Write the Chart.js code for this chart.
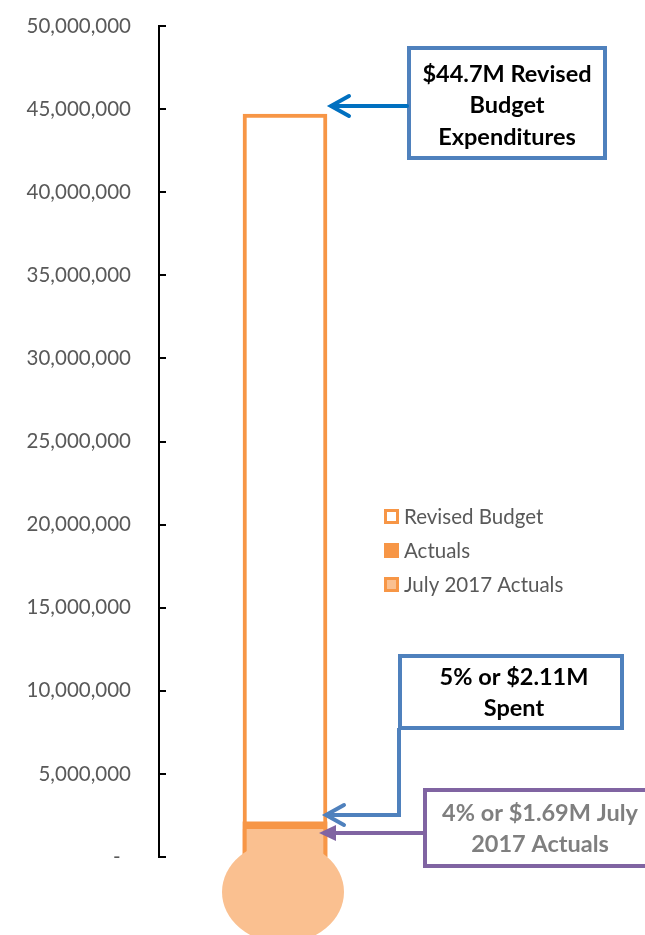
<!DOCTYPE html>
<html>
<head>
<meta charset="utf-8">
<script src="https://cdn.jsdelivr.net/npm/chart.js@4/dist/chart.umd.min.js"></script>
<style>
  body { margin: 0; background: #fff; }
</style>
</head>
<body>
<canvas id="thermoChart" width="645" height="935"></canvas>
<script>
const categories = ['Budget'];
const revisedBudget = [44700000];
const actuals = [2110000];
const julyActuals = [1690000];
const seriesNames = ['Revised Budget', 'Actuals', 'July 2017 Actuals'];
const yMin = 0;
const yMax = 50000000;
const yStep = 5000000;

const ORANGE = '#F79646';
const LIGHT = '#FAC090';
const FONT = 'Lato, "Open Sans", sans-serif';

// inward tick marks on the value axis
const innerTicks = {
  id: 'innerTicks',
  afterDraw(chart) {
    const y = chart.scales.y;
    const ctx = chart.ctx;
    const x0 = chart.chartArea.left;
    ctx.save();
    ctx.strokeStyle = '#000';
    ctx.lineWidth = 2;
    y.ticks.forEach(t => {
      const py = Math.round(y.getPixelForValue(t.value));
      ctx.beginPath();
      ctx.moveTo(x0, py);
      ctx.lineTo(x0 + 7, py);
      ctx.stroke();
    });
    ctx.restore();
  }
};

// thermometer bulb under the column
const bulb = {
  id: 'bulb',
  afterDatasetsDraw(chart) {
    const bar = chart.getDatasetMeta(0).data[0];
    const y0 = chart.scales.y.getPixelForValue(0);
    const ctx = chart.ctx;
    ctx.save();
    ctx.fillStyle = LIGHT;
    ctx.beginPath();
    ctx.ellipse(bar.x - 2, y0 + 35, 61, 51, 0, 0, Math.PI * 2);
    ctx.fill();
    ctx.restore();
  }
};

function arrowOpen(ctx, x1, y, x2, color) {
  ctx.strokeStyle = color;
  ctx.lineWidth = 4;
  ctx.lineCap = 'round';
  ctx.beginPath();
  ctx.moveTo(x1, y);
  ctx.lineTo(x2 + 2, y);
  ctx.stroke();
  ctx.beginPath();
  ctx.moveTo(x2 + 19, y - 10);
  ctx.lineTo(x2 + 1, y);
  ctx.lineTo(x2 + 19, y + 10);
  ctx.stroke();
}

function boxText(ctx, lines, cx, cy, gap, color) {
  ctx.fillStyle = color;
  ctx.font = 'bold 23.5px ' + FONT;
  ctx.textAlign = 'center';
  ctx.textBaseline = 'middle';
  lines.forEach((l, i) => ctx.fillText(l, cx, cy + i * gap));
}

// callout boxes and arrows
const callouts = {
  id: 'callouts',
  afterDraw(chart) {
    const ctx = chart.ctx;
    ctx.save();
    ctx.lineJoin = 'miter';

    // revised budget
    ctx.strokeStyle = '#4F81BD';
    ctx.lineWidth = 4;
    ctx.strokeRect(409, 48, 196, 110);
    boxText(ctx, ['$44.7M Revised', 'Budget', 'Expenditures'], 507, 74, 31.5, '#000');
    arrowOpen(ctx, 407, 106, 330, '#0070C0');

    // spent
    ctx.strokeStyle = '#4F81BD';
    ctx.lineWidth = 4;
    ctx.lineCap = 'butt';
    ctx.strokeRect(400, 656, 222, 72);
    boxText(ctx, ['5% or $2.11M', 'Spent'], 514, 677, 31, '#000');
    ctx.strokeStyle = '#4F81BD';
    ctx.lineWidth = 4;
    ctx.beginPath();
    ctx.moveTo(399, 728);
    ctx.lineTo(399, 815);
    ctx.lineTo(330, 815);
    ctx.stroke();
    arrowOpen(ctx, 330, 815, 325, '#4F81BD');

    // july actuals
    ctx.strokeStyle = '#8064A2';
    ctx.lineWidth = 4;
    ctx.lineCap = 'butt';
    ctx.strokeRect(425, 790, 260, 76);
    boxText(ctx, ['4% or $1.69M July', '2017 Actuals'], 540, 813, 31, '#7F7F7F');
    ctx.strokeStyle = '#8064A2';
    ctx.lineWidth = 4;
    ctx.beginPath();
    ctx.moveTo(425, 833);
    ctx.lineTo(330, 833);
    ctx.stroke();
    ctx.fillStyle = '#8064A2';
    ctx.beginPath();
    ctx.moveTo(319, 833);
    ctx.lineTo(336, 825);
    ctx.lineTo(336, 841);
    ctx.closePath();
    ctx.fill();

    ctx.restore();
  }
};

// legend drawn at the picture's position
const sideLegend = {
  id: 'sideLegend',
  afterDraw(chart) {
    const ctx = chart.ctx;
    ctx.save();
    ctx.font = '20.5px ' + FONT;
    ctx.textAlign = 'left';
    ctx.textBaseline = 'middle';
    chart.data.datasets.forEach((ds, i) => {
      const cy = 516 + i * 34;
      ctx.fillStyle = ds.backgroundColor;
      ctx.fillRect(384, cy - 7, 15, 15);
      if (ds.legendBorder) {
        ctx.strokeStyle = ORANGE;
        ctx.lineWidth = 3;
        ctx.strokeRect(385.5, cy - 5.5, 12, 12);
      }
      ctx.fillStyle = '#595959';
      ctx.fillText(ds.label, 404, cy + 1);
    });
    ctx.restore();
  }
};

const data = {
  labels: categories,
  datasets: [
    {
      label: seriesNames[0],
      data: revisedBudget,
      backgroundColor: '#FFFFFF',
      borderColor: ORANGE,
      borderWidth: 4,
      borderSkipped: 'start',
      legendBorder: true,
      order: 3
    },
    {
      label: seriesNames[1],
      data: actuals,
      backgroundColor: ORANGE,
      borderWidth: 0,
      order: 2
    },
    {
      label: seriesNames[2],
      data: julyActuals,
      backgroundColor: LIGHT,
      borderColor: ORANGE,
      borderWidth: { left: 4, right: 4, top: 0, bottom: 0 },
      legendBorder: true,
      order: 1
    }
  ]
};

const config = {
  type: 'bar',
  data: data,
  options: {
    responsive: false,
    animation: false,
    layout: {
      padding: { top: 26, bottom: 78, left: 0, right: 234 }
    },
    datasets: {
      bar: { grouped: false, barThickness: 84 }
    },
    plugins: {
      legend: { display: false },
      tooltip: { enabled: false }
    },
    scales: {
      x: { display: false },
      y: {
        min: yMin,
        max: yMax,
        afterFit(scale) { scale.width = 159; },
        border: { display: true, color: '#000', width: 2 },
        grid: { display: false, drawTicks: true, tickLength: 28 },
        ticks: {
          stepSize: yStep,
          padding: 0,
          color: '#595959',
          font: { family: FONT, size: 20.5 },
          callback: v => v === 0 ? '-  ' : v.toLocaleString('en-US')
        }
      }
    }
  },
  plugins: [bulb, innerTicks, callouts, sideLegend]
};

new Chart(document.getElementById('thermoChart').getContext('2d'), config);
</script>
</body>
</html>
